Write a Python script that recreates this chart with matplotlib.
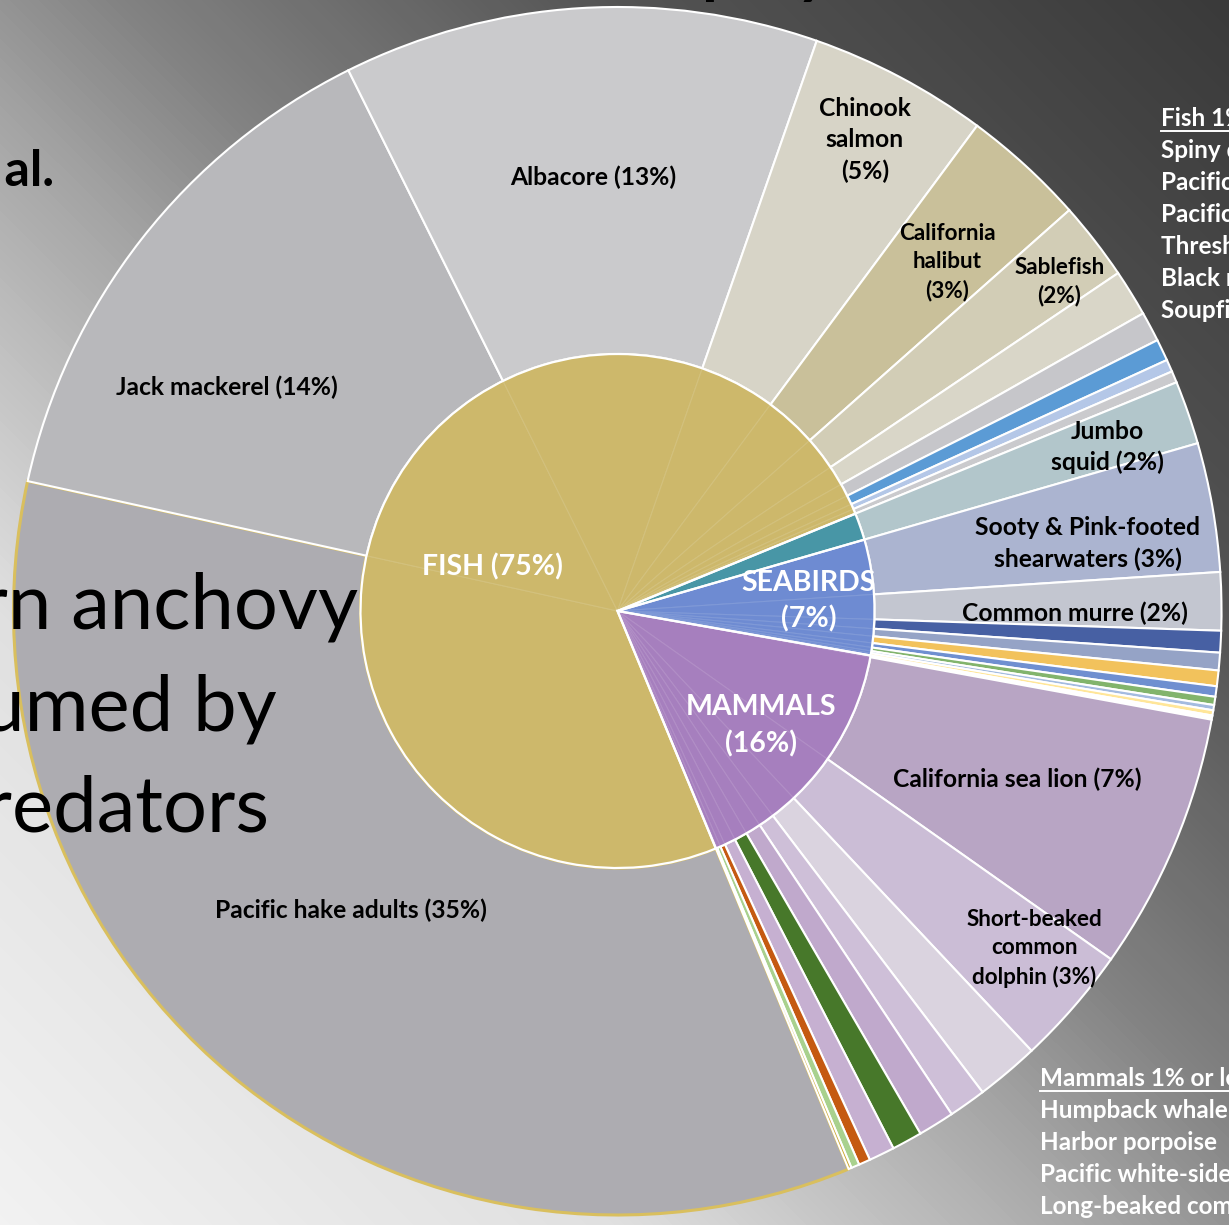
import numpy as np
import matplotlib.pyplot as plt
from matplotlib.colors import LinearSegmentedColormap, to_rgb

plt.rcParams['font.family'] = ['Lato', 'DejaVu Sans']

W, H = 1229, 1225
CX, CY = 617.5, H - 611.0      # centre of the sunburst (pixel units, y up)
R_IN, R_OUT = 257, 604
START = -67.5                  # hake wedge starts here, going clockwise

# --- share of anchovy consumed (%), outer ring, clockwise ---
fish_names = ['Pacific hake adults', 'Jack mackerel', 'Albacore', 'Chinook salmon',
              'California halibut', 'Sablefish', 'Soupfin shark', 'Black rockfish',
              'Thresher shark', 'Pacific mackerel', 'Spiny dogfish']
fish_pct = [34.7, 14.2, 12.7, 4.8, 3.3, 2.1, 1.25, 0.8, 0.58, 0.33, 0.31]
fish_colors = ['#adacb1', '#b8b8bb', '#cacacc', '#d7d4c7', '#c9c09a', '#d2cdb6',
               '#d9d6c8', '#c6c6ca', '#5b9bd5', '#b4c7e7', '#cacacd']

squid_names = ['Jumbo squid']
squid_pct = [1.7]
squid_colors = ['#b2c6cb']

bird_names = ['Sooty & Pink-footed shearwaters', 'Common murre', 'Rhinoceros auklet',
              'Brandt\'s cormorant', 'Western gull', 'Brown pelican', 'Pelagic cormorant',
              'Elegant tern', 'Caspian tern']
bird_pct = [3.45, 1.55, 0.58, 0.47, 0.42, 0.28, 0.22, 0.14, 0.14]
bird_colors = ['#abb4d0', '#c3c6d0', '#4760a3', '#95a3c6', '#f2c25c', '#6f8fd0',
               '#82b46c', '#a4bbe0', '#ffe699']

mammal_names = ['Other', 'California sea lion', 'Short-beaked common dolphin',
                'Humpback whale', 'Harbor porpoise', 'Pacific white-sided dolphin',
                'Long-beaked common dolphin', 'Harbor seal', 'Northern fur seal',
                'Steller sea lion', 'Minke whale']
mammal_pct = [0.11, 6.9, 3.2, 1.69, 1.0, 0.97, 0.81, 0.69, 0.31, 0.22, 0.08]
mammal_colors = ['#ffffff', '#b8a5c4', '#cbbdd6', '#dad3df', '#cebfd8', '#c0a9cc',
                 '#47782a', '#c6b0d1', '#c55a11', '#a9d18e', '#c9a227']

# --- inner ring ---
group_names = ['FISH', '', 'SEABIRDS', 'MAMMALS']
group_colors = ['#cdb86b', '#4896a6', '#6e8bd2', '#a67fbe']
group_parts = [fish_pct, squid_pct, bird_pct, mammal_pct]
group_pct = [sum(p) for p in group_parts]

outer_pct = fish_pct + squid_pct + bird_pct + mammal_pct
outer_colors = fish_colors + squid_colors + bird_colors + mammal_colors
inner_fill = [c for c, p in zip(group_colors, group_parts) for _ in p]


def lighten(c, k):
    r = np.array(to_rgb(c))
    return tuple(r + (1 - r) * k)


fig = plt.figure(figsize=(W / 100, H / 100), dpi=100)
ax = fig.add_axes([0, 0, 1, 1])

# slide background: light at lower left, dark at upper right
yy, xx = np.mgrid[0:H, 0:W]
t = (xx / W + yy / H) / 2
bg = LinearSegmentedColormap.from_list('bg', [(0, '#f2f2f2'), (0.25, '#e0e0e0'),
                                              (0.45, '#a6a6a6'), (0.55, '#828282'),
                                              (0.75, '#545454'), (1, '#3a3a3a')])
ax.imshow(t, cmap=bg, origin='lower', extent=(0, W, 0, H), zorder=0)

# outer ring
outer, _ = ax.pie(outer_pct, radius=R_OUT, center=(CX, CY), startangle=START,
                  counterclock=False, colors=outer_colors, normalize=True,
                  wedgeprops=dict(width=R_OUT - R_IN, edgecolor='white', linewidth=1.5))
outer[0].set_edgecolor('#d9bf5e')
outer[0].set_linewidth(2.2)

# inner ring, one faint wedge per predator
inner, _ = ax.pie(outer_pct, radius=R_IN, center=(CX, CY), startangle=START,
                  counterclock=False, colors=inner_fill, normalize=True,
                  wedgeprops=dict(linewidth=0.8))
for w, c in zip(inner, inner_fill):
    w.set_edgecolor(lighten(c, 0.12))

# white outlines around each group
groups, _ = ax.pie(group_pct, radius=R_IN, center=(CX, CY), startangle=START,
                   counterclock=False, colors=['none'] * 4, normalize=True,
                   wedgeprops=dict(edgecolor='white', linewidth=1.6))
for w in groups:
    w.set_facecolor('none')


def polar(r, ang):
    a = np.radians(ang)
    return CX + r * np.cos(a), CY + r * np.sin(a)


# outer labels: text, radius, angle
outer_labels = [
    ('Pacific hake adults (35%)', 401, -131.7),
    ('Jack mackerel (14%)', 450, 150.2),
    ('Albacore (13%)', 434, 93.2),
    ('Chinook\nsalmon\n(5%)', 532, 62.3),
    ('California\nhalibut\n(3%)', 480, 46.6),
    ('Sablefish\n(2%)', 551, 36.7),
    ('Jumbo\nsquid (2%)', 517, 18.5),
    ('Sooty & Pink-footed\nshearwaters (3%)', 475, 8.2),
    ('Common murre (2%)', 457, -0.3),
    ('California sea lion (7%)', 434, -22.8),
    ('Short-beaked\ncommon\ndolphin (3%)', 536, -39.0),
]
small = {'California\nhalibut\n(3%)', 'Sablefish\n(2%)', 'Short-beaked\ncommon\ndolphin (3%)'}
for txt, r, a in outer_labels:
    x, y = polar(r, a)
    ax.text(x, y, txt, ha='center', va='center', fontsize=16.2 if txt in small else 17.7,
            fontweight='bold', color='black', linespacing=1.42, zorder=5)

inner_labels = [('FISH (75%)', 132, 160.7), ('SEABIRDS\n(7%)', 191, 2.9),
                ('MAMMALS\n(16%)', 184, -38.6)]
for txt, r, a in inner_labels:
    x, y = polar(r, a)
    ax.text(x, y, txt, ha='center', va='center', fontsize=20.5, fontweight='bold',
            color='white', linespacing=1.43, zorder=5)

# slide text around the chart
ax.text(830, H + 8, 'Role as prey', ha='right', va='baseline', fontsize=46,
        fontweight='bold', color='black', zorder=6)
for txt, xr, yb in [('of northern anchovy', 358, 628), ('consumed by', 277, 730),
                    ('predators', 270, 832)]:
    ax.text(xr, H - yb, txt, ha='right', va='baseline', fontsize=56, color='black', zorder=6)
ax.text(54, H - 186, 'et al.', ha='right', va='baseline', fontsize=36,
        fontweight='bold', color='black', zorder=6)

fish_list = ['Fish 1% or less', 'Spiny dogfish', 'Pacific bonito', 'Pacific mackerel',
             'Thresher shark', 'Black rockfish', 'Soupfin shark']
for i, txt in enumerate(fish_list):
    ax.text(1161, H - (126 + 32 * i), txt, ha='left', va='baseline', fontsize=17.5,
            fontweight='bold', color='white', zorder=6)
ax.plot([1161, 1300], [H - 131, H - 131], color='white', lw=1.4, zorder=6)

mammal_list = ['Mammals 1% or less', 'Humpback whale', 'Harbor porpoise',
               'Pacific white-sided dolphin', 'Long-beaked common dolphin']
for i, txt in enumerate(mammal_list):
    ax.text(1040, H - (1086 + 32 * i), txt, ha='left', va='baseline', fontsize=17.5,
            fontweight='bold', color='white', zorder=6)
ax.plot([1040, 1300], [H - 1091, H - 1091], color='white', lw=1.4, zorder=6)

ax.set_xlim(0, W)
ax.set_ylim(0, H)
ax.set_aspect('auto')
ax.axis('off')
fig.savefig('out.png', dpi=100)
